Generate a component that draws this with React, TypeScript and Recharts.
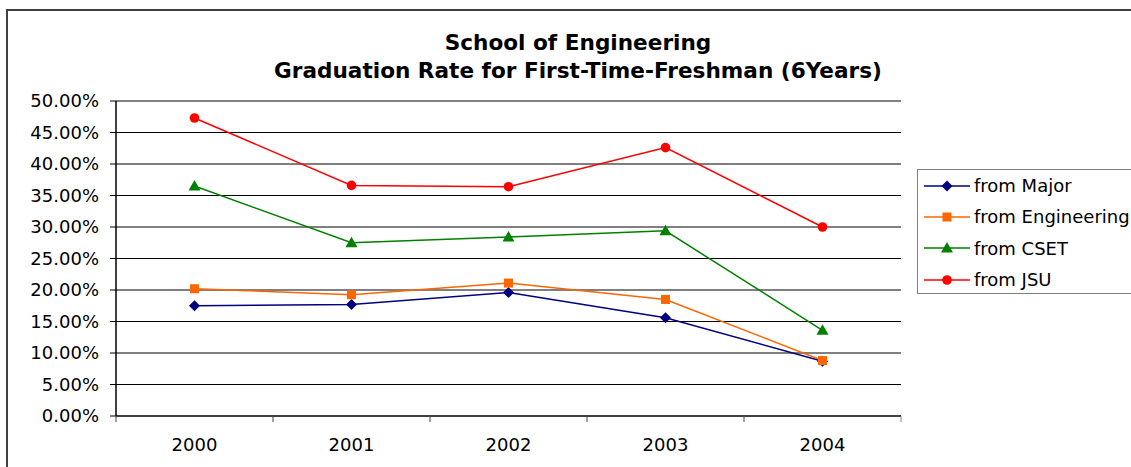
import React from 'react';
import { LineChart, Line, XAxis, YAxis, CartesianGrid, Legend, ReferenceLine } from 'recharts';

const years = ['2000', '2001', '2002', '2003', '2004'];
const fromMajor = [17.5, 17.7, 19.6, 15.6, 8.7];
const fromEngineering = [20.2, 19.25, 21.1, 18.5, 8.8];
const fromCSET = [36.5, 27.5, 28.4, 29.4, 13.6];
const fromJSU = [47.3, 36.6, 36.4, 42.6, 30.0];
const yTicks = [0, 5, 10, 15, 20, 25, 30, 35, 40, 45, 50];
const titleLines = ['School of Engineering', 'Graduation Rate for First-Time-Freshman (6Years)'];

type Shape = 'diamond' | 'square' | 'triangle' | 'circle';
const series: { key: string; name: string; color: string; shape: Shape; values: number[] }[] = [
  { key: 'major', name: 'from Major', color: '#000080', shape: 'diamond', values: fromMajor },
  { key: 'engineering', name: 'from Engineering', color: '#FF6600', shape: 'square', values: fromEngineering },
  { key: 'cset', name: 'from CSET', color: '#008000', shape: 'triangle', values: fromCSET },
  { key: 'jsu', name: 'from JSU', color: '#FF0000', shape: 'circle', values: fromJSU },
];

const data = years.map((year, i) => {
  const row: Record<string, string | number> = { year };
  series.forEach((s) => {
    row[s.key] = s.values[i];
  });
  return row;
});

const FONT = '"DejaVu Sans", "Liberation Sans", Arial, sans-serif';

function Marker({ shape, cx, cy, color }: { shape: Shape; cx: number; cy: number; color: string }) {
  switch (shape) {
    case 'diamond':
      return <path d={`M${cx},${cy - 5.5}L${cx + 5.5},${cy}L${cx},${cy + 5.5}L${cx - 5.5},${cy}Z`} fill={color} />;
    case 'square':
      return <rect x={cx - 4.5} y={cy - 4.5} width={9} height={9} fill={color} />;
    case 'triangle':
      return <path d={`M${cx},${cy - 6}L${cx + 6},${cy + 4.5}L${cx - 6},${cy + 4.5}Z`} fill={color} />;
    default:
      return <circle cx={cx} cy={cy} r={4.8} fill={color} />;
  }
}

const TICK_SIZE = 6;
const TICK_MARGIN = 2;

function XTick(props: any) {
  const { x, y, payload, index, width, visibleTicksCount } = props;
  const half = width / visibleTicksCount / 2;
  const axisY = y - TICK_SIZE - TICK_MARGIN;
  return (
    <g>
      <line x1={x - half} x2={x - half} y1={axisY} y2={axisY + TICK_SIZE} stroke="#404040" strokeWidth={1} />
      {index === visibleTicksCount - 1 && (
        <line x1={x + half} x2={x + half} y1={axisY} y2={axisY + TICK_SIZE} stroke="#808080" strokeWidth={1} />
      )}
      <text x={x} y={axisY + 35} textAnchor="middle" fontSize={18} fontFamily={FONT} fill="#000">
        {payload.value}
      </text>
    </g>
  );
}

function LegendContent() {
  return (
    <div
      style={{
        border: '1px solid #808080',
        background: '#fff',
        width: 240,
        height: 125,
        boxSizing: 'border-box',
        paddingTop: 0,
      }}
    >
      {series.map((s) => (
        <div key={s.key} style={{ display: 'flex', alignItems: 'center', height: 31.3 }}>
          <svg width={52} height={14} style={{ marginLeft: 6, flex: 'none' }}>
            <line x1={0} x2={46} y1={7} y2={7} stroke={s.color} strokeWidth={1.5} />
            <Marker shape={s.shape} cx={23} cy={7} color={s.color} />
          </svg>
          <span style={{ fontFamily: FONT, fontSize: 18, color: '#000', whiteSpace: 'nowrap', marginLeft: -2 }}>
            {s.name}
          </span>
        </div>
      ))}
    </div>
  );
}

export default function App() {
  return (
    <div
      style={{
        position: 'fixed',
        left: 0,
        top: 0,
        width: 1131,
        height: 467,
        overflow: 'hidden',
        background: '#fff',
      }}
    >
      <div
        style={{
          position: 'absolute',
          left: 6,
          top: 9,
          width: 1300,
          height: 600,
          border: '2px solid #404040',
        }}
      />
      <div style={{ position: 'absolute', left: 0, top: 0 }}>
        <LineChart width={1131} height={467} data={data} margin={{ top: 101, right: 230, bottom: 0, left: 0 }}>
          <CartesianGrid vertical={false} stroke="#000" strokeWidth={1} />
          <ReferenceLine y={50} stroke="#808080" strokeWidth={1.5} />
          <XAxis
            dataKey="year"
            scale="band"
            height={51}
            axisLine={{ stroke: '#404040', strokeWidth: 2 }}
            tickLine={false}
            tickSize={TICK_SIZE}
            tickMargin={TICK_MARGIN}
            tick={<XTick />}
            interval={0}
          />
          <YAxis
            width={116}
            domain={[0, 50]}
            ticks={yTicks}
            interval={0}
            axisLine={{ stroke: '#000', strokeWidth: 1.5 }}
            tickLine={{ stroke: '#000' }}
            tickSize={6}
            tickMargin={11}
            tick={{ fontSize: 18, fontFamily: FONT, fill: '#000' }}
            tickFormatter={(v: number) => `${v.toFixed(2)}%`}
          />
          <YAxis
            yAxisId="right"
            orientation="right"
            width={0}
            domain={[0, 50]}
            tick={false}
            tickLine={false}
            axisLine={{ stroke: '#808080', strokeWidth: 1.5 }}
          />
          {series.map((s) => (
            <Line
              key={s.key}
              type="linear"
              dataKey={s.key}
              name={s.name}
              stroke={s.color}
              strokeWidth={1.5}
              isAnimationActive={false}
              dot={(p: any) => <Marker key={`${s.key}-${p.index}`} shape={s.shape} cx={p.cx} cy={p.cy} color={s.color} />}
              activeDot={false}
            />
          ))}
          <Legend
            layout="vertical"
            align="center"
            verticalAlign="middle"
            content={<LegendContent />}
            wrapperStyle={{ left: 917, top: 169, width: 240, height: 125 }}
          />
        </LineChart>
      </div>
      <svg
        width={1131}
        height={467}
        style={{ position: 'absolute', left: 0, top: 0, pointerEvents: 'none' }}
      >
        <text x={578} y={50} textAnchor="middle" fontSize={21.6} fontWeight="bold" fontFamily={FONT} fill="#000">
          {titleLines[0]}
        </text>
        <text x={578} y={78} textAnchor="middle" fontSize={21.6} fontWeight="bold" fontFamily={FONT} fill="#000">
          {titleLines[1]}
        </text>
      </svg>
    </div>
  );
}
